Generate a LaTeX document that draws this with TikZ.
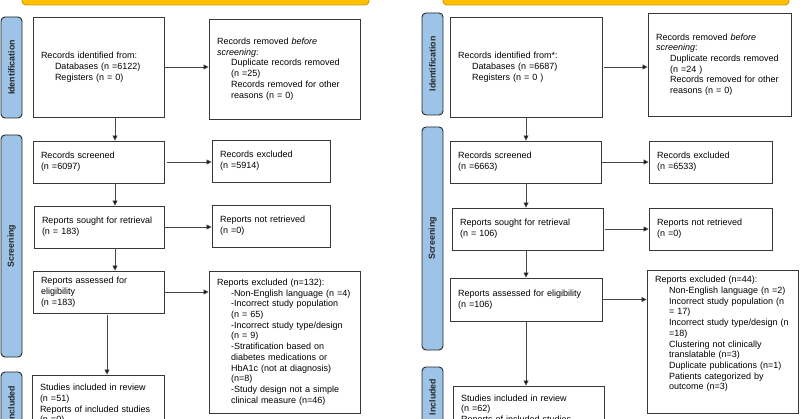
\documentclass[tikz,border=0pt]{standalone}
\usepackage{fontspec}
\setmainfont{Liberation Sans}
\usetikzlibrary{arrows.meta}
\definecolor{lblue}{HTML}{9DC3E6}
\definecolor{ban}{HTML}{FFC000}
\definecolor{banb}{HTML}{C99A00}
\newcommand\ind{\hspace*{14pt}}
\newcommand\bx[6]{%
  \pgfmathsetmacro\bw{#4-#2}%
  \pgfmathsetmacro\bh{#5-#3}%
  \pgfmathsetmacro\tw{#4-#2-16}%
  \pgfmathsetmacro\cx{(#2+#4)/2}%
  \pgfmathsetmacro\cy{(#3+#5)/2}%
  \node[box, minimum width=\bw pt, minimum height=\bh pt, text width=\tw pt] (#1) at (\cx,\cy) {#6};}
\newcommand\lb[6]{%
  \pgfmathsetmacro\bw{#4-#2}%
  \pgfmathsetmacro\bh{#5-#3}%
  \pgfmathsetmacro\cx{(#2+#4)/2}%
  \pgfmathsetmacro\cy{(#3+#5)/2}%
  \node[phase, minimum width=\bh pt, minimum height=\bw pt] (#1) at (\cx,\cy) {#6};}
\begin{document}
\begin{tikzpicture}[x=1pt,y=-1pt,
  box/.style={draw=black!78, line width=0.9pt, fill=white, inner xsep=8pt, inner ysep=2pt,
    align=left, font=\fontsize{9}{10.7}\selectfont},
  phase/.style={draw=black!85, line width=0.9pt, fill=lblue, rounded corners=4pt, rotate=90,
    inner sep=0pt, font=\fontsize{8.8}{10}\selectfont\bfseries, text=black!85},
  banner/.style={draw=banb, line width=0.9pt, fill=ban, rounded corners=4pt, inner sep=0pt},
  arr/.style={draw=black!72, line width=0.8pt, -{Triangle[length=5pt,width=5pt,fill=black]}}]
\useasboundingbox (0,0) rectangle (800,419);
\clip (0,0) rectangle (800,419);
% banners
\node[banner, minimum width=347pt, minimum height=30pt] (banL) at (195.5,-10) {};
\node[banner, minimum width=346pt, minimum height=30pt] (banR) at (616,-10) {};
% phase labels
\lb{pidL}{1}{17}{22}{118}{Identification}
\lb{pscL}{1}{135}{22}{357}{Screening}
\lb{pinL}{1}{372}{22}{436}{Included}
\lb{pidR}{422}{13}{443}{115}{Identification}
\lb{pscR}{422}{127}{443}{350}{Screening}
\lb{pinR}{422}{367}{443}{427}{Included}
% left boxes
\bx{idL}{33}{17}{164}{117}{Records identified from:\\\ind Databases (n =6122)\\\ind Registers (n = 0)}
\bx{rmL}{209}{19}{360}{119}{Records removed \textit{before}\\\textit{screening}:\\\ind Duplicate records removed\\\ind (n =25)\\\ind Records removed for other\\\ind reasons (n = 0)}
\bx{scL}{33}{141}{164}{183}{Records screened\\(n =6097)}
\bx{exL}{212}{140}{330}{182}{Records excluded\\(n =5914)}
\bx{soL}{34}{206}{164}{248}{Reports sought for retrieval\\(n = 183)}
\bx{nrL}{212}{205}{330}{247}{Reports not retrieved\\(n =0)}
\bx{asL}{33}{271}{164}{313}{Reports assessed for\\eligibility\\(n =183)}
\bx{reL}{209}{271}{360}{413}{Reports excluded (n=132):\\\ind -Non-English language (n =4)\\\ind -Incorrect study population\\\ind (n = 65)\\\ind -Incorrect study type/design\\\ind (n = 9)\\\ind -Stratification based on\\\ind diabetes medications or\\\ind HbA1c (not at diagnosis)\\\ind (n=8)\\\ind -Study design not a simple\\\ind clinical measure (n=46)}
\bx{stL}{32}{375}{164}{434}{Studies included in review\\(n =51)\\Reports of included studies\\(n =0)}
% right boxes
\bx{idR}{450}{17}{602}{117}{Records identified from*:\\\ind Databases (n =6687)\\\ind Registers (n = 0 )}
\bx{rmR}{648}{13}{791}{116}{Records removed \textit{before}\\\textit{screening}:\\\ind Duplicate records removed\\\ind (n =24 )\\\ind Records removed for other\\\ind reasons (n = 0)}
\bx{scR}{450}{141}{601}{183}{Records screened\\(n =6663)}
\bx{exR}{649}{141}{772}{183}{Records excluded\\(n =6533)}
\bx{soR}{452}{208}{603}{250}{Reports sought for retrieval\\(n = 106)}
\bx{nrR}{649}{208}{772}{250}{Reports not retrieved\\(n =0)}
\bx{asR}{450}{278}{602}{321}{Reports assessed for eligibility\\(n =106)}
\bx{reR}{647}{270}{798}{413}{Reports excluded (n=44):\\\ind Non-English language (n =2)\\\ind Incorrect study population (n\\\ind = 17)\\\ind Incorrect study type/design (n\\\ind =18)\\\ind Clustering not clinically\\\ind translatable (n=3)\\\ind Duplicate publications (n=1)\\\ind Patients categorized by\\\ind outcome (n=3)\par\rule{0pt}{14pt}}
\bx{stR}{453}{386}{604}{444}{Studies included in review\\(n =62)\\Reports of included studies\\(n =0)}
% guide coordinates for vertical arrows
\coordinate (xL) at (115,0);
\coordinate (xL2) at (107,0);
\coordinate (xR) at (526,0);
% left arrows
\draw[arr] (idL.east) -- (rmL.west |- idL.east);
\draw[arr] ([xshift=3pt]scL.east) -- (exL.west |- scL.east);
\draw[arr] (soL.east) -- (nrL.west |- soL.east);
\draw[arr] (asL.east) -- (reL.west |- asL.east);
\draw[arr] (idL.south -| xL) -- (scL.north -| xL);
\draw[arr] (scL.south -| xL) -- (soL.north -| xL);
\draw[arr] (soL.south -| xL) -- (asL.north -| xL);
\draw[arr] ([yshift=-2pt]asL.south -| xL2) -- (stL.north -| xL2);
% right arrows
\draw[arr] ([xshift=2pt]idR.east) -- (rmR.west |- idR.east);
\draw[arr] (scR.east) -- (exR.west |- scR.east);
\draw[arr] ([xshift=2pt]soR.east) -- (nrR.west |- soR.east);
\draw[arr] (asR.east) -- (reR.west |- asR.east);
\draw[arr] (idR.south -| xR) -- (scR.north -| xR);
\draw[arr] (scR.south -| xR) -- (soR.north -| xR);
\draw[arr] (soR.south -| xR) -- (asR.north -| xR);
\draw[arr] (asR.south -| xR) -- (stR.north -| xR);
\end{tikzpicture}
\end{document}
